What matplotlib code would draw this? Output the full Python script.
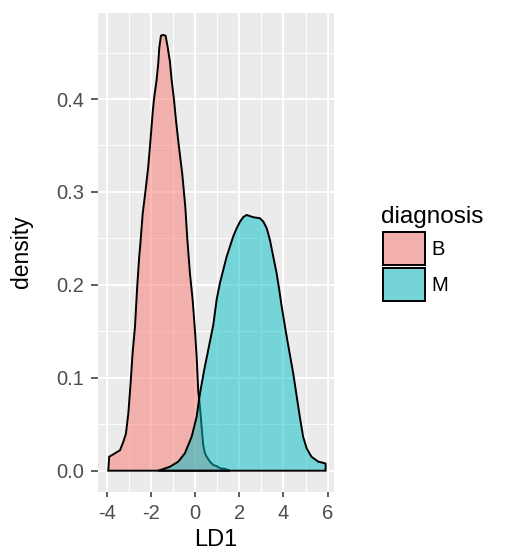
import matplotlib
matplotlib.use('Agg')
import matplotlib.pyplot as plt
from matplotlib.patches import Rectangle

plt.rcParams['font.family'] = ['Liberation Sans', 'DejaVu Sans']

# density curves
b_x = [-3.94, -3.90, -3.64, -3.41, -3.26, -3.14, -3.03, -2.93, -2.84, -2.73, -2.63, -2.54,
       -2.49, -2.38, -2.25, -2.13, -2.02, -1.93, -1.87, -1.75, -1.675, -1.63, -1.553, -1.45,
       -1.34, -1.25, -1.145, -1.07, -0.964, -0.874, -0.74, -0.59, -0.45, -0.36, -0.24, -0.117,
       -0.013, 0.064, 0.137, 0.214, 0.29, 0.36, 0.44, 0.52, 0.67, 0.82, 0.97, 1.12, 1.35, 1.57]
b_y = [0.000, 0.015, 0.0187, 0.022, 0.031, 0.040, 0.062, 0.094, 0.126, 0.155, 0.198, 0.230,
       0.243, 0.277, 0.302, 0.327, 0.358, 0.385, 0.3997, 0.4206, 0.4385, 0.455, 0.4682, 0.469,
       0.468, 0.456, 0.440, 0.4206, 0.3997, 0.3776, 0.349, 0.320, 0.284, 0.250, 0.2125, 0.184,
       0.151, 0.123, 0.086, 0.069, 0.047, 0.028, 0.019, 0.015, 0.0097, 0.006, 0.005, 0.0026, 0.002, 0.000]

m_x = [-1.675, -1.145, -0.77, -0.47, -0.16, 0.064, 0.214, 0.395, 0.59, 0.82, 0.97, 1.12,
       1.27, 1.42, 1.57, 1.72, 1.88, 2.03, 2.18, 2.33, 2.63, 2.93, 3.09, 3.24, 3.39, 3.54,
       3.69, 3.81, 3.92, 4.07, 4.17, 4.29, 4.44, 4.60, 4.74, 4.89, 5.05, 5.27, 5.58, 5.88,
       5.91, 5.91]
m_y = [0.000, 0.0043, 0.0097, 0.0187, 0.0366, 0.058, 0.083, 0.107, 0.130, 0.157, 0.184, 0.202,
       0.216, 0.230, 0.241, 0.252, 0.261, 0.268, 0.273, 0.2752, 0.2728, 0.2717, 0.268, 0.261, 0.248, 0.230,
       0.2125, 0.1945, 0.1765, 0.155, 0.141, 0.125, 0.105, 0.080, 0.058, 0.0366, 0.024, 0.015, 0.0097, 0.008,
       0.0075, 0.000]

groups = ['B', 'M']
colors = ['#F8766D', '#00BFC4']
xticks = [-4, -2, 0, 2, 4, 6]
yticks = [0.0, 0.1, 0.2, 0.3, 0.4]

W, H = 505, 551
fig = plt.figure(figsize=(W / 100, H / 100), dpi=100)
ax = fig.add_axes([97.7 / W, 1 - 491.7 / H, (334 - 97.7) / W, (491.7 - 12.7) / H])
ax.set_facecolor('#EBEBEB')

for (xs, ys), c in zip([(b_x, b_y), (m_x, m_y)], colors):
    rgba = matplotlib.colors.to_rgba(c, 0.5)
    ax.fill(xs, ys, facecolor=rgba, edgecolor='black', linewidth=1.4, zorder=3)

ax.set_xlim(-4.42, 6.29)
ax.set_ylim(-0.0226, 0.4929)
ax.set_xticks(xticks)
ax.set_xticklabels([str(t) for t in xticks])
ax.set_yticks(yticks)
ax.set_yticklabels(['%.1f' % t for t in yticks])
ax.set_xticks([-3, -1, 1, 3, 5], minor=True)
ax.set_yticks([0.05, 0.15, 0.25, 0.35, 0.45], minor=True)
ax.grid(which='major', color='white', linewidth=1.4, zorder=0)
ax.grid(which='minor', color='white', linewidth=0.7, zorder=0)
ax.set_axisbelow(True)
for s in ax.spines.values():
    s.set_visible(False)
ax.tick_params(axis='y', which='major', length=5, width=1.1, color='#333333',
               labelcolor='#4D4D4D', labelsize=14.5, pad=5)
ax.tick_params(axis='x', which='major', length=3.6, width=1.1, color='#333333',
               labelcolor='#4D4D4D', labelsize=14.5, pad=5)
ax.tick_params(which='minor', length=0)

fig.text(21 / W, 1 - 252 / H, 'density', rotation=90, ha='center', va='center', fontsize=16.5)
fig.text(216 / W, 1 - 540 / H, 'LD1', ha='center', va='center', fontsize=17)

# legend
fig.text(381 / W, 1 - 223 / H, 'diagnosis', ha='left', va='baseline', fontsize=17.5)
key_tops = [232.3, 267.7]
for g, c, top in zip(groups, colors, key_tops):
    x0, y0, w, h = 383.3 / W, 1 - (top + 33) / H, 42 / W, 33 / H
    fig.patches.append(Rectangle((x0, y0), w, h, transform=fig.transFigure,
                                 facecolor='#EBEBEB', edgecolor='none'))
    fig.patches.append(Rectangle((x0, y0), w, h, transform=fig.transFigure,
                                 facecolor=matplotlib.colors.to_rgba(c, 0.5),
                                 edgecolor='black', linewidth=1.4))
    fig.text(431.7 / W, 1 - (top + 17.5) / H, g, ha='left', va='center', fontsize=14.5)

fig.savefig('out.png', dpi=100)
